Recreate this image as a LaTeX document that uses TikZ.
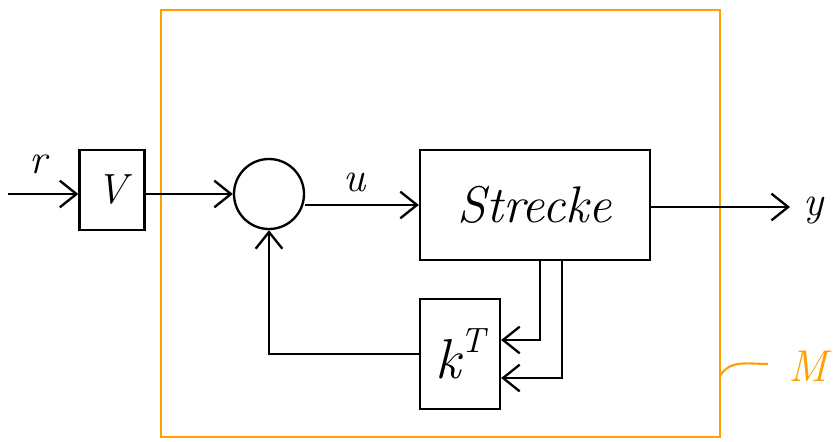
\documentclass[tikz,border=0pt]{standalone}
\usetikzlibrary{arrows.meta}
\definecolor{hlorange}{RGB}{255,160,0}
\tikzset{
  blk/.style={draw, line width=2pt, inner sep=0pt},
  arr/.style={line width=2pt, -{Straight Barb[length=5mm,width=8mm,line width=2pt]}},
  lab/.style={font=\fontsize{36}{36}\selectfont\itshape},
  hl/.style={draw=hlorange, line width=1.8pt},
}
\begin{document}
\begin{tikzpicture}[x=0.03cm,y=-0.03cm]
 \useasboundingbox (0,0) rectangle (834,441);
 % system boundary
 \draw[hl] (161,10) rectangle (720,437);
 \draw[hl] (720,376) to[out=60,in=180] (768,364);
 \node[text=hlorange,font=\fontsize{38}{38}\selectfont\itshape,inner sep=0pt] (mlab) at (808,366) {M};
 % blocks
 \node[blk,minimum width=1.95cm,minimum height=2.4cm,lab] (vgain) at (112,190) {V};
 \node[blk,circle,minimum size=2.1cm] (sum) at (269,194) {};
 \node[blk,minimum width=6.9cm,minimum height=3.3cm,font=\fontsize{44}{44}\selectfont\itshape] (plant) at (535,205) {Strecke};
 \node[blk,minimum width=2.4cm,minimum height=3.3cm,font=\fontsize{48}{48}\selectfont\itshape] (kvec) at (460,354) {k\raisebox{0.45em}{\fontsize{30}{30}\selectfont T}};
 % free ends
 \coordinate (rin) at (8,194);
 \coordinate (yout) at (790,207);
 \coordinate (fb1) at (540,340);
 \coordinate (fb2) at (562,378);
 % signals
 \node[lab] (rlab) at (38,164) {r};
 \node[lab] (ulab) at (355,182) {u};
 \node[lab] (ylab) at (814,210) {y};
 \draw[arr] (rin) -- (rin -| vgain.west);
 \draw[arr] (vgain.east |- sum.west) -- (sum.west);
 \draw[arr] (sum.east |- plant.west) -- (plant.west);
 \draw[arr] (plant.east |- yout) -- (yout);
 \draw[arr] (plant.south -| fb1) |- (kvec.east |- fb1);
 \draw[arr] (plant.south -| fb2) |- (kvec.east |- fb2);
 \draw[arr] (kvec.west) -| (sum.south);
\end{tikzpicture}
\end{document}
